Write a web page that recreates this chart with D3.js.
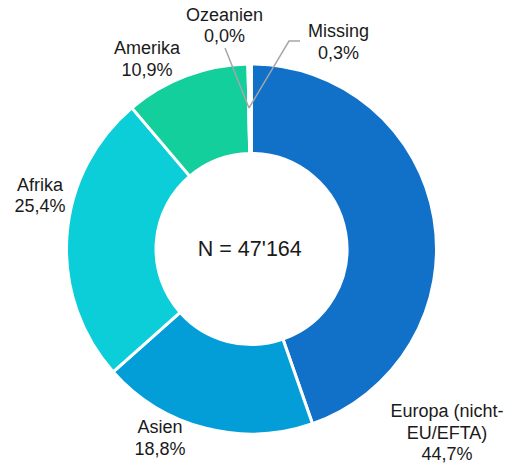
<!DOCTYPE html>
<html>
<head>
<meta charset="utf-8">
<script src="https://cdn.jsdelivr.net/npm/d3@7"></script>
<style>
  html, body { margin: 0; padding: 0; background: #fff; }
  svg { display: block; }
  text { font-family: "Liberation Sans", Arial, sans-serif; fill: #1a1a1a; }
</style>
</head>
<body>
<svg id="chart" width="518" height="464"></svg>
<script>
// ---- data ----
const categories = ["Europa (nicht-EU/EFTA)", "Asien", "Afrika", "Amerika", "Ozeanien", "Missing"];
const labelLines = [["Europa (nicht-", "EU/EFTA)"], ["Asien"], ["Afrika"], ["Amerika"], ["Ozeanien"], ["Missing"]];
const values = [44.7, 18.8, 25.4, 10.9, 0.0, 0.3];
const valueLabels = ["44,7%", "18,8%", "25,4%", "10,9%", "0,0%", "0,3%"];
const totalLabel = "N = 47'164";

// ---- style / layout ----
const colors = ["#1170C8", "#039ED8", "#0CCED8", "#13CF9B", "#A6A6A6", "#FFFFFF"];
const cx = 251.5, cy = 249, outerR = 185, innerR = 95.5;
// label anchor (centre x, first baseline y)
const labelPos = [[447, 417], [160, 433], [40, 190.5], [147, 54], [224.5, 20.5], [338.5, 37]];
const lineH = 21.5;
// leader lines for tiny slices (index -> polyline)
const leaders = { 4: [[249, 108], [225, 48]], 5: [[249, 108], [289, 41], [300, 41]] };

const svg = d3.select("#chart");
const g = svg.append("g").attr("transform", `translate(${cx},${cy})`);

const pie = d3.pie().sort(null).value(d => d);
const arcs = pie(values);
const arc = d3.arc().innerRadius(innerR).outerRadius(outerR);

g.selectAll("path.slice")
  .data(arcs)
  .join("path")
  .attr("class", "slice")
  .attr("d", arc)
  .attr("fill", (d, i) => colors[i])
  .attr("stroke", "#fff")
  .attr("stroke-width", 3)
  .attr("stroke-linejoin", "miter");

// leader lines
const lineGen = d3.line();
Object.entries(leaders).forEach(([i, pts]) => {
  svg.append("path")
    .attr("d", lineGen(pts))
    .attr("fill", "none")
    .attr("stroke", "#A6A6A6")
    .attr("stroke-width", 1.5);
});

// labels
const lbl = svg.selectAll("text.lbl")
  .data(categories)
  .join("text")
  .attr("class", "lbl")
  .attr("text-anchor", "middle")
  .attr("font-size", 18);

lbl.each(function (d, i) {
  const t = d3.select(this);
  const lines = labelLines[i].concat([valueLabels[i]]);
  lines.forEach((s, k) => {
    t.append("tspan")
      .attr("x", labelPos[i][0])
      .attr("y", labelPos[i][1] + k * lineH)
      .text(s);
  });
});

// centre total
svg.append("text")
  .attr("x", 249.8)
  .attr("y", 255.7)
  .attr("text-anchor", "middle")
  .attr("font-size", 21.5)
  .text(totalLabel);
</script>
</body>
</html>
